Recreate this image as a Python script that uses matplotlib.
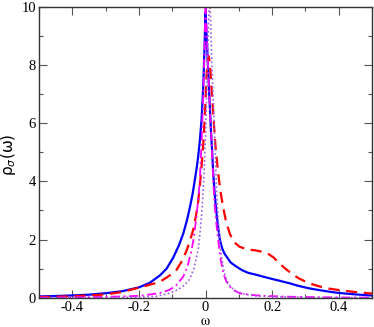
import matplotlib
matplotlib.use("Agg")
import matplotlib.pyplot as plt
from matplotlib.ticker import MultipleLocator

# spectral functions
x_blue = [-0.5, -0.45, -0.4, -0.35, -0.3, -0.25, -0.2, -0.167, -0.137, -0.117, -0.097,
          -0.08, -0.067, -0.056, -0.047, -0.039, -0.032, -0.026, -0.022, -0.017, -0.012,
          -0.007, -0.003, 0.0, 0.004, 0.008, 0.012, 0.016, 0.02, 0.023, 0.028, 0.033,
          0.038, 0.043, 0.05, 0.057, 0.063, 0.075, 0.093, 0.11, 0.128, 0.15, 0.173,
          0.2, 0.225, 0.253, 0.28, 0.31, 0.34, 0.373, 0.4, 0.45, 0.5]
y_blue = [0.05, 0.065, 0.085, 0.11, 0.16, 0.23, 0.36, 0.52, 0.77, 1.0, 1.38,
          1.8, 2.2, 2.65, 3.1, 3.55, 4.05, 4.5, 4.85, 5.4, 6.1,
          7.2, 8.6, 9.8, 8.8, 7.8, 6.8, 5.8, 5.0, 4.3, 3.5, 2.9,
          2.4, 2.0, 1.7, 1.52, 1.42, 1.22, 1.07, 0.95, 0.86, 0.8, 0.73,
          0.65, 0.58, 0.5, 0.41, 0.33, 0.27, 0.21, 0.17, 0.12, 0.08]

x_red = [-0.5, -0.45, -0.4, -0.35, -0.3, -0.25, -0.217, -0.177, -0.137, -0.11, -0.087,
         -0.07, -0.057, -0.047, -0.037, -0.029, -0.022, -0.017, -0.012, -0.006, -0.001,
         0.003, 0.006, 0.009, 0.013, 0.017, 0.021, 0.025, 0.03, 0.038, 0.045, 0.053,
         0.062, 0.073, 0.085, 0.103, 0.128, 0.15, 0.173, 0.19, 0.205, 0.22, 0.24,
         0.26, 0.28, 0.3, 0.32, 0.343, 0.37, 0.4, 0.45, 0.5]
y_red = [0.03, 0.04, 0.055, 0.08, 0.12, 0.2, 0.3, 0.42, 0.55, 0.75, 0.96,
         1.28, 1.62, 1.95, 2.33, 2.8, 3.3, 3.85, 4.5, 5.4, 6.5,
         7.6, 8.1, 8.3, 8.1, 7.4, 6.7, 6.0, 5.2, 4.28, 3.65, 3.1,
         2.6, 2.2, 1.92, 1.75, 1.66, 1.63, 1.58, 1.5, 1.38, 1.2, 1.0,
         0.82, 0.67, 0.56, 0.47, 0.39, 0.32, 0.27, 0.2, 0.15]

x_mag = [-0.5, -0.4, -0.3, -0.2, -0.17, -0.137, -0.11, -0.09, -0.067, -0.055, -0.042,
         -0.034, -0.027, -0.021, -0.017, -0.012, -0.007, -0.003, 0.0, 0.004, 0.009,
         0.014, 0.018, 0.023, 0.028, 0.033, 0.038, 0.045, 0.053, 0.062, 0.073, 0.088,
         0.103, 0.13, 0.16, 0.2, 0.25, 0.3, 0.4, 0.5]
y_mag = [0.01, 0.02, 0.035, 0.07, 0.11, 0.17, 0.27, 0.4, 0.73, 1.05, 1.62,
         2.15, 2.8, 3.5, 4.05, 5.3, 6.8, 8.6, 10.2, 9.0, 7.6,
         6.3, 5.4, 4.1, 3.1, 2.5, 1.99, 1.35, 0.85, 0.58, 0.39, 0.24,
         0.16, 0.11, 0.08, 0.06, 0.04, 0.03, 0.015, 0.01]

x_dot = [-0.5, -0.4, -0.3, -0.2, -0.15, -0.107, -0.08, -0.062, -0.047, -0.035, -0.022,
         -0.015, -0.01, -0.005, 0.0, 0.004, 0.008, 0.012, 0.015, 0.018, 0.023, 0.028,
         0.033, 0.038, 0.043, 0.048, 0.055, 0.063, 0.075, 0.093, 0.12, 0.15, 0.2,
         0.3, 0.4, 0.5]
y_dot = [0.005, 0.008, 0.012, 0.025, 0.05, 0.16, 0.3, 0.45, 0.65, 1.0, 1.65,
         2.4, 3.1, 4.1, 5.6, 7.2, 9.0, 10.5, 9.6, 8.5, 6.8, 5.4,
         3.7, 2.7, 1.95, 1.42, 0.95, 0.62, 0.38, 0.22, 0.12, 0.07, 0.04,
         0.02, 0.01, 0.006]

fig = plt.figure(figsize=(3.74, 3.27), dpi=100)
ax = fig.add_axes([0.104, 0.089, 0.891, 0.891])

ax.plot(x_blue, y_blue, color='#0000ff', lw=1.6)
ax.plot(x_red, y_red, color='#ff0000', lw=1.6, ls=(0, (5, 3)))
ax.plot(x_mag, y_mag, color='#ff00ff', lw=1.3, ls=(0, (5, 2, 1, 2)))
ax.plot(x_dot, y_dot, color='#9a5cf0', lw=1.2, ls=(0, (1, 1.5)))

ax.set_xlim(-0.5, 0.5)
ax.set_ylim(0, 10)
ax.xaxis.set_minor_locator(MultipleLocator(0.1))
ax.yaxis.set_minor_locator(MultipleLocator(1))
ax.set_xticks([-0.4, -0.2, 0, 0.2, 0.4])
ax.set_xticklabels(['-0.4', '-0.2', '0', '0.2', '0.4'])
ax.set_yticks([0, 2, 4, 6, 8, 10])
ax.set_yticklabels(['0', '2', '4', '6', '8', '10'])

ax.tick_params(which='both', direction='in', top=True, right=True, color='#555555')
ax.tick_params(which='major', length=6, width=0.8, pad=2)
ax.tick_params(which='minor', length=3, width=0.8)
for lbl in ax.get_xticklabels() + ax.get_yticklabels():
    lbl.set_fontfamily('Liberation Serif')
    lbl.set_fontsize(10.5)
for s in ax.spines.values():
    s.set_color('#333333')
    s.set_linewidth(1.0)

ax.set_xlabel(r'$\mathrm{\omega}$', fontsize=10.5, math_fontfamily='stix', va='top')
ax.xaxis.set_label_coords(0.5, -0.052)
ax.set_ylabel(r'ρ$_{\sigma}$(ω)', fontsize=11)
ax.yaxis.set_label_coords(-0.062, 0.49)

fig.savefig('out.png', dpi=100)
